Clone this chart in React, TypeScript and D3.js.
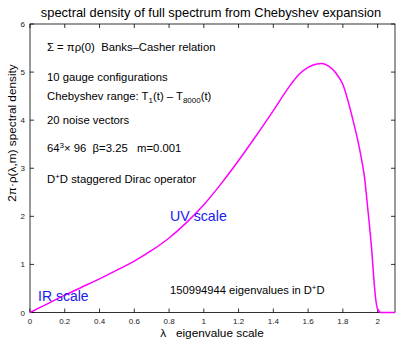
import React, { useEffect, useRef } from 'react';
import * as d3 from 'd3';

// eigenvalue lambda (x) and 2*pi*rho(lambda,m) (y)
const lambdaVals = [0, 0.1, 0.2, 0.3, 0.4, 0.5, 0.6, 0.7, 0.8, 0.9, 1.0, 1.1, 1.2, 1.3, 1.4, 1.5, 1.55, 1.6, 1.65, 1.68, 1.72, 1.76, 1.8, 1.85, 1.9, 1.925, 1.945, 1.965, 1.98, 1.99, 2.0, 2.02, 2.05, 2.1];
const densityVals = [0, 0.18, 0.36, 0.53, 0.7, 0.88, 1.07, 1.29, 1.55, 1.87, 2.24, 2.68, 3.16, 3.67, 4.2, 4.74, 4.96, 5.1, 5.17, 5.18, 5.12, 4.98, 4.74, 4.12, 3.33, 2.8, 2.1, 1.35, 0.62, 0.25, 0.07, 0, 0, 0];

const xTicks = [0, 0.2, 0.4, 0.6, 0.8, 1, 1.2, 1.4, 1.6, 1.8, 2];
const yTicks = [0, 1, 2, 3, 4, 5, 6];

const FONT = "'Liberation Sans', Arial, Helvetica, sans-serif";

const App = () => {
  const svgRef = useRef(null);
  const width = 399;
  const height = 340;
  const margin = { top: 24, right: 4, bottom: 27.5, left: 30 };

  useEffect(() => {
    document.body.style.margin = '0';
    const svg = d3.select(svgRef.current);
    svg.selectAll('*').remove();
    svg.attr('width', width).attr('height', height);

    svg.append('rect').attr('width', width).attr('height', height).attr('fill', '#ffffff');

    const x = d3.scaleLinear().domain([0, 2.1]).range([margin.left, width - margin.right]);
    const y = d3.scaleLinear().domain([0, 6]).range([height - margin.bottom, margin.top]);

    const x0 = x(0), x1 = x(2.1), y0 = y(0), y1 = y(6);

    // axes box with inward ticks on all four sides
    const axes = svg.append('g').attr('stroke', '#000').attr('stroke-width', 0.8).attr('fill', 'none');
    axes.append('rect').attr('x', x0).attr('y', y1).attr('width', x1 - x0).attr('height', y0 - y1);
    xTicks.forEach(t => {
      axes.append('line').attr('x1', x(t)).attr('x2', x(t)).attr('y1', y0).attr('y2', y0 - 4);
      axes.append('line').attr('x1', x(t)).attr('x2', x(t)).attr('y1', y1).attr('y2', y1 + 4);
    });
    yTicks.forEach(t => {
      axes.append('line').attr('x1', x0).attr('x2', x0 + 4).attr('y1', y(t)).attr('y2', y(t));
      axes.append('line').attr('x1', x1).attr('x2', x1 - 4).attr('y1', y(t)).attr('y2', y(t));
    });

    // tick labels
    svg.append('g').selectAll('text')
      .data(xTicks)
      .enter().append('text')
      .attr('x', d => x(d))
      .attr('y', y0 + 11)
      .attr('text-anchor', 'middle')
      .style('font-family', FONT)
      .style('font-size', '8px')
      .attr('fill', '#222')
      .text(d => String(d));

    svg.append('g').selectAll('text')
      .data(yTicks)
      .enter().append('text')
      .attr('x', x0 - 5)
      .attr('y', d => y(d) + 3)
      .attr('text-anchor', 'end')
      .style('font-family', FONT)
      .style('font-size', '8px')
      .attr('fill', '#222')
      .text(d => String(d));

    // the density curve
    const pts = lambdaVals.map((l, i) => [l, densityVals[i]]);
    const line = d3.line().x(d => x(d[0])).y(d => y(d[1])).curve(d3.curveMonotoneX);
    svg.append('path')
      .datum(pts)
      .attr('d', line)
      .attr('fill', 'none')
      .attr('stroke', '#ff00ff')
      .attr('stroke-width', 1.5);

    // title
    svg.append('text')
      .attr('x', 211)
      .attr('y', 17)
      .attr('text-anchor', 'middle')
      .style('font-family', FONT)
      .style('font-size', '12.9px')
      .attr('fill', '#000')
      .text('spectral density of full spectrum from Chebyshev expansion');

    // axis labels
    svg.append('text')
      .attr('x', 212)
      .attr('y', 336.5)
      .attr('text-anchor', 'middle')
      .style('font-family', FONT)
      .style('font-size', '11.8px')
      .attr('fill', '#000')
      .attr('xml:space', 'preserve')
      .text('λ   eigenvalue scale');

    svg.append('text')
      .attr('transform', 'translate(16,133) rotate(-90)')
      .attr('text-anchor', 'middle')
      .style('font-family', FONT)
      .style('font-size', '11.8px')
      .attr('fill', '#000')
      .text('2π·ρ(λ,m) spectral density');

    // annotations
    const note = (xx, yy) => svg.append('text')
      .attr('x', xx)
      .attr('y', yy)
      .style('font-family', FONT)
      .style('font-size', '11.3px')
      .attr('fill', '#000')
      .attr('xml:space', 'preserve');

    note(47, 51).text('Σ = πρ(0)  Banks–Casher relation');
    note(47, 81).text('10 gauge configurations');

    const cheb = note(47, 100);
    cheb.append('tspan').text('Chebyshev range: T');
    cheb.append('tspan').attr('dy', 3).style('font-size', '8px').text('1');
    cheb.append('tspan').attr('dy', -3).text('(t) – T');
    cheb.append('tspan').attr('dy', 3).style('font-size', '8px').text('8000');
    cheb.append('tspan').attr('dy', -3).text('(t)');

    note(47, 124).text('20 noise vectors');

    const lat = note(47, 152);
    lat.append('tspan').text('64');
    lat.append('tspan').attr('dy', -4).style('font-size', '8px').text('3');
    lat.append('tspan').attr('dy', 4).text('× 96  β=3.25   m=0.001');

    const dd = note(47, 183);
    dd.append('tspan').text('D');
    dd.append('tspan').attr('dy', -4).style('font-size', '8px').text('+');
    dd.append('tspan').attr('dy', 4).text('D staggered Dirac operator');

    const eig = note(170, 294);
    eig.style('font-size', '11.2px');
    eig.append('tspan').text('150994944 eigenvalues in D');
    eig.append('tspan').attr('dy', -4).style('font-size', '8px').text('+');
    eig.append('tspan').attr('dy', 4).text('D');

    svg.append('text')
      .attr('x', 170)
      .attr('y', 221)
      .style('font-family', FONT)
      .style('font-size', '14.2px')
      .attr('fill', '#2020ee')
      .text('UV scale');

    svg.append('text')
      .attr('x', 38)
      .attr('y', 301)
      .style('font-family', FONT)
      .style('font-size', '14px')
      .attr('fill', '#2020ee')
      .text('IR scale');
  }, []);

  return (
    <div style={{ position: 'absolute', left: 0, top: 0 }}>
      <svg ref={svgRef} style={{ display: 'block' }} />
    </div>
  );
};

export default App;
